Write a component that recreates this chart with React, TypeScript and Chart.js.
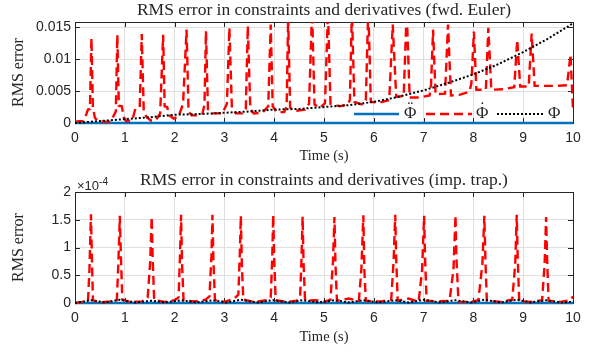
import React, { useEffect, useRef } from "react";
import { Chart, registerables } from "chart.js";

Chart.register(...registerables);

// ---------- texts & ticks ----------
const topTitle = "RMS error in constraints and derivatives (fwd. Euler)";
const bottomTitle = "RMS error in constraints and derivatives (imp. trap.)";
const xAxisTitle = "Time (s)";
const yAxisTitle = "RMS error";
const legendLabels = ["\u03A6\u0308", "\u03A6\u0307", "\u03A6"];
const legendBase = "\u03A6";
const legendMarks = ["\u00A8", "\u02D9", ""];
const bottomExponentBase = "\u00D710";
const bottomExponentPower = "-4";

const xTickValues = [0, 1, 2, 3, 4, 5, 6, 7, 8, 9, 10];
const xTickLabels = ["0", "1", "2", "3", "4", "5", "6", "7", "8", "9", "10"];
const topYTickValues = [0, 0.005, 0.01, 0.015];
const topYTickLabels = ["0", "0.005", "0.01", "0.015"];
const bottomYTickValues = [0, 0.5, 1, 1.5, 2];
const bottomYTickLabels = ["0", "0.5", "1", "1.5", "2"];

// ---------- top panel (fwd. Euler) ----------
const topPhiDdotTime = [0, 1, 2, 3, 4, 5, 6, 7, 8, 9, 10];
const topPhiDdotValue = [0, 0, 0, 0, 0, 0, 0, 0, 0, 0, 0];

const topPhiDotTime = [
  0.0, 0.08, 0.17, 0.22, 0.26, 0.3, 0.33, 0.36, 0.4, 0.46, 0.6, 0.72, 0.78, 0.82, 0.85, 0.88, 0.94, 0.98,
  1.03, 1.15, 1.21, 1.3, 1.34, 1.38, 1.43, 1.52, 1.62, 1.71, 1.77, 1.8, 1.85, 1.89, 1.98, 2.08, 2.17, 2.24,
  2.28, 2.34, 2.46, 2.56, 2.6, 2.63, 2.67, 2.76, 2.96, 3.05, 3.1, 3.15, 3.23, 3.36, 3.43, 3.47, 3.52, 3.59,
  3.76, 3.88, 3.93, 3.97, 4.05, 4.2, 4.25, 4.28, 4.32, 4.42, 4.62, 4.7, 4.76, 4.81, 4.92, 5.02, 5.08, 5.13,
  5.32, 5.48, 5.52, 5.56, 5.61, 5.76, 5.84, 5.89, 5.94, 6.12, 6.31, 6.38, 6.45, 6.6, 6.66, 6.72, 6.92, 7.12,
  7.15, 7.19, 7.24, 7.43, 7.49, 7.55, 7.72, 7.92, 7.96, 8.01, 8.06, 8.25, 8.3, 8.36, 8.62, 8.82, 8.88, 8.94,
  9.11, 9.17, 9.23, 9.6, 9.88, 9.95, 10.0,
];
const topPhiDotValue = [
  0.0002, 0.0003, 0.0003, 0.0012, 0.0021, 0.0022, 0.0133, 0.0025, 0.0008, 0.0003, 0.0002, 0.0002, 0.0012, 0.0018, 0.0138, 0.0027, 0.0026, 0.0009,
  0.0003, 0.0004, 0.0022, 0.0025, 0.0139, 0.002, 0.001, 0.0004, 0.0004, 0.0015, 0.0138, 0.0026, 0.0025, 0.0012, 0.0007, 0.001, 0.003, 0.0146,
  0.0018, 0.0012, 0.0012, 0.0015, 0.0029, 0.0144, 0.002, 0.0015, 0.0015, 0.003, 0.0149, 0.0024, 0.0015, 0.0015, 0.0022, 0.0152, 0.0022, 0.0015,
  0.0016, 0.0026, 0.0154, 0.0026, 0.0017, 0.0017, 0.0026, 0.0165, 0.0024, 0.0019, 0.0021, 0.003, 0.0175, 0.0029, 0.0024, 0.0031, 0.0175, 0.003,
  0.0026, 0.0029, 0.0036, 0.0175, 0.0033, 0.0029, 0.0036, 0.018, 0.0033, 0.0032, 0.0036, 0.0154, 0.0041, 0.0042, 0.0175, 0.004, 0.004, 0.0043,
  0.006, 0.0146, 0.0045, 0.0046, 0.0154, 0.0043, 0.0044, 0.0049, 0.0062, 0.0143, 0.0052, 0.0052, 0.0149, 0.0052, 0.0053, 0.0056, 0.013, 0.0057,
  0.0057, 0.014, 0.0058, 0.0058, 0.0059, 0.0107, 0.002,
];

const topPhiTime = [0, 0.5, 1, 1.5, 2, 2.5, 3, 3.5, 4, 4.5, 5, 5.5, 6, 6.5, 7, 7.5, 8, 8.5, 9, 9.5, 10];
const topPhiValue = [
  0, 0.0003, 0.0006, 0.0009, 0.0013, 0.0014, 0.0016, 0.0018, 0.0021, 0.0022, 0.0025, 0.0028, 0.0033, 0.0041,
  0.0051, 0.0063, 0.0076, 0.0092, 0.0111, 0.0132, 0.0156,
];

// ---------- bottom panel (imp. trap.), values in units of 1e-4 ----------
const botPhiDdotTime = [0, 1, 2, 3, 4, 5, 6, 7, 8, 9, 10];
const botPhiDdotValueE4 = [0, 0, 0, 0, 0, 0, 0, 0, 0, 0, 0];

const botPhiDotTime = [
  0.0, 0.15, 0.26, 0.29, 0.32, 0.34, 0.36, 0.5, 0.7, 0.84, 0.87, 0.9, 0.92, 0.95, 1.1, 1.35, 1.46, 1.51, 1.54,
  1.56, 1.59, 1.8, 2.0, 2.08, 2.11, 2.13, 2.15, 2.18, 2.4, 2.62, 2.7, 2.74, 2.76, 2.78, 2.81, 3.0, 3.2, 3.28,
  3.31, 3.33, 3.35, 3.38, 3.6, 3.85, 3.93, 3.96, 3.98, 4.0, 4.03, 4.25, 4.45, 4.52, 4.55, 4.57, 4.59, 4.62,
  4.85, 5.0, 5.13, 5.18, 5.21, 5.23, 5.26, 5.5, 5.7, 5.75, 5.79, 5.81, 5.84, 6.0, 6.15, 6.35, 6.4, 6.43, 6.45,
  6.48, 6.7, 6.9, 6.97, 7.01, 7.03, 7.06, 7.3, 7.52, 7.6, 7.64, 7.66, 7.7, 7.95, 8.1, 8.18, 8.22, 8.24, 8.27,
  8.55, 8.78, 8.84, 8.87, 8.89, 8.92, 9.15, 9.38, 9.43, 9.46, 9.48, 9.51, 9.75, 9.95, 10.0,
];
const botPhiDotValueE4 = [
  0.0, 0.02, 0.02, 0.6, 1.6, 0.8, 0.05, 0.01, 0.03, 0.05, 0.7, 1.57, 0.9, 0.06, 0.02, 0.03, 0.1, 0.75, 1.55,
  0.8, 0.05, 0.02, 0.05, 0.1, 0.9, 1.59, 0.7, 0.04, 0.03, 0.06, 0.12, 0.85, 1.59, 0.75, 0.05, 0.02, 0.08, 0.15,
  0.9, 1.57, 0.7, 0.06, 0.02, 0.05, 0.1, 0.8, 1.59, 0.8, 0.05, 0.02, 0.04, 0.1, 0.85, 1.56, 0.7, 0.04,
  0.05, 0.02, 0.06, 0.75, 1.55, 0.7, 0.04, 0.08, 0.04, 0.6, 1.58, 0.6, 0.04, 0.03, 0.03, 0.06, 0.8, 1.59, 0.8,
  0.04, 0.08, 0.02, 0.6, 1.57, 0.8, 0.04, 0.03, 0.04, 0.6, 1.58, 0.8, 0.02, 0.02, 0.05, 0.7, 1.57, 0.8, 0.04,
  0.02, 0.06, 0.7, 1.59, 0.8, 0.03, 0.02, 0.05, 0.7, 1.55, 0.8, 0.04, 0.02, 0.05, 0.12,
];

const botPhiTime = [
  0, 0.32, 0.6, 0.9, 1.2, 1.54, 1.8, 2.13, 2.45, 2.76, 3.05, 3.33, 3.65, 3.98, 4.3, 4.57, 4.9, 5.21, 5.5,
  5.79, 6.1, 6.43, 6.7, 7.01, 7.3, 7.64, 7.95, 8.22, 8.55, 8.87, 9.15, 9.46, 9.75, 10,
];
const botPhiValueE4 = [
  0, 0.05, 0.01, 0.06, 0.01, 0.04, 0.01, 0.05, 0.01, 0.05, 0.01, 0.06, 0.01, 0.05, 0.01, 0.05, 0.01, 0.05, 0.01,
  0.05, 0.01, 0.05, 0.01, 0.06, 0.01, 0.05, 0.01, 0.06, 0.01, 0.06, 0.01, 0.05, 0.01, 0.02,
];

// ---------- styling ----------
const BLUE = "#0072bd";
const RED = "#ff0000";
const BLACK = "#000000";
const AXIS = "#262626";
const GRID = "#dfdfdf";
const SANS = "'Liberation Sans', Arial, sans-serif";
const SERIF = "'Liberation Serif', 'Times New Roman', serif";

const W = 590;
const TOP_H = 170;
const BOT_H = 183;

const pts = (xs: number[], ys: number[]) => xs.map((x, i) => ({ x, y: ys[i] }));

const framePlugin = {
  id: "frame",
  beforeDatasetsDraw(chart: any) {
    const { ctx, chartArea: a, scales } = chart;
    const L = 5;
    ctx.save();
    ctx.strokeStyle = AXIS;
    ctx.lineWidth = 1;
    ctx.beginPath();
    scales.x.ticks.forEach((t: any) => {
      const px = Math.round(scales.x.getPixelForValue(t.value)) + 0.5;
      ctx.moveTo(px, a.bottom);
      ctx.lineTo(px, a.bottom - L);
      ctx.moveTo(px, a.top);
      ctx.lineTo(px, a.top + L);
    });
    scales.y.ticks.forEach((t: any) => {
      const py = Math.round(scales.y.getPixelForValue(t.value)) + 0.5;
      ctx.moveTo(a.left, py);
      ctx.lineTo(a.left + L, py);
      ctx.moveTo(a.right, py);
      ctx.lineTo(a.right - L, py);
    });
    ctx.stroke();
    ctx.strokeRect(a.left + 0.5, a.top + 0.5, a.right - a.left, a.bottom - a.top);
    ctx.restore();
  },
};

// Axes-centred title (MATLAB centres the title over the axes box)
const axesTitlePlugin = {
  id: "axesTitle",
  afterDraw(chart: any, _args: any, pluginOpts: any) {
    const { ctx, chartArea: a } = chart;
    ctx.save();
    ctx.fillStyle = AXIS;
    ctx.font = `17.5px ${SERIF}`;
    ctx.textAlign = "center";
    ctx.textBaseline = "middle";
    ctx.fillText(pluginOpts.text, (a.left + a.right) / 2, 10);
    ctx.restore();
  },
};

const legendPlugin = {
  id: "insideLegend",
  afterDatasetsDraw(chart: any) {
    const { ctx, chartArea: a } = chart;
    const ly = a.bottom - 9;
    const ty = a.bottom - 5;
    const items = [
      { x0: a.right - 219, x1: a.right - 174, tx: a.right - 169, color: BLUE, width: 2.5, dash: [] as number[] },
      { x0: a.right - 147, x1: a.right - 101, tx: a.right - 97, color: RED, width: 2.4, dash: [9, 5] },
      { x0: a.right - 76, x1: a.right - 28, tx: a.right - 25, color: BLACK, width: 2, dash: [2, 2] },
    ];
    ctx.save();
    items.forEach((it, i) => {
      ctx.beginPath();
      ctx.strokeStyle = it.color;
      ctx.lineWidth = it.width;
      ctx.setLineDash(it.dash);
      ctx.moveTo(it.x0, ly);
      ctx.lineTo(it.x1, ly);
      ctx.stroke();
      ctx.setLineDash([]);
      ctx.fillStyle = AXIS;
      ctx.font = `17px ${SERIF}`;
      ctx.textAlign = "left";
      ctx.textBaseline = "alphabetic";
      ctx.fillText(legendBase, it.tx, ty);
      const w = ctx.measureText(legendBase).width;
      if (legendMarks[i]) {
        ctx.textAlign = "center";
        ctx.fillText(legendMarks[i], it.tx + w / 2, ty - 5);
      }
    });
    ctx.restore();
  },
};

const exponentPlugin = {
  id: "exponent",
  afterDraw(chart: any) {
    const { ctx, chartArea: a } = chart;
    ctx.save();
    ctx.fillStyle = AXIS;
    ctx.textAlign = "left";
    ctx.textBaseline = "alphabetic";
    ctx.font = `13px ${SANS}`;
    ctx.fillText(bottomExponentBase, a.left + 2, a.top - 2);
    const w = ctx.measureText(bottomExponentBase).width;
    ctx.font = `10px ${SANS}`;
    ctx.fillText(bottomExponentPower, a.left + 2 + w, a.top - 7);
    ctx.restore();
  },
};

function lineDataset(label: string, data: any[], color: string, width: number, dash: number[]) {
  return {
    label,
    data,
    borderColor: color,
    backgroundColor: color,
    borderWidth: width,
    borderDash: dash,
    borderCapStyle: "butt",
    borderJoinStyle: "miter",
    pointRadius: 0,
    pointHoverRadius: 0,
    tension: 0,
    fill: false,
    clip: { left: 0, top: 0, right: 0, bottom: 2 },
  };
}

function makeOptions(opts: {
  title: string;
  yMax: number;
  yTickValues: number[];
  yTickLabels: string[];
  xScaleHeight: number;
  xTitlePadBottom: number;
}) {
  return {
    responsive: false,
    animation: false,
    events: [],
    layout: { padding: { left: 0, right: 17, top: 22, bottom: 0 } },
    plugins: {
      legend: { display: false },
      tooltip: { enabled: false },
      title: { display: false },
      axesTitle: { text: opts.title },
    },
    scales: {
      x: {
        type: "linear",
        min: 0,
        max: 10,
        afterBuildTicks: (s: any) => {
          s.ticks = xTickValues.map((v) => ({ value: v }));
        },
        afterFit: (s: any) => {
          s.height = opts.xScaleHeight;
        },
        ticks: {
          color: AXIS,
          font: { family: SANS, size: 14 },
          padding: 7,
          maxRotation: 0,
          autoSkip: false,
          callback: (_v: any, i: number) => xTickLabels[i],
        },
        grid: { color: GRID, lineWidth: 1, drawTicks: false },
        border: { display: false },
        title: {
          display: true,
          text: xAxisTitle,
          color: AXIS,
          font: { family: SERIF, size: 14.5 },
          padding: { top: 0, bottom: opts.xTitlePadBottom },
        },
      },
      y: {
        type: "linear",
        min: 0,
        max: opts.yMax,
        afterBuildTicks: (s: any) => {
          s.ticks = opts.yTickValues.map((v) => ({ value: v }));
        },
        afterFit: (s: any) => {
          s.width = 75;
        },
        ticks: {
          color: AXIS,
          font: { family: SANS, size: 14 },
          padding: 4,
          autoSkip: false,
          callback: (_v: any, i: number) => opts.yTickLabels[i],
        },
        grid: { color: GRID, lineWidth: 1, drawTicks: false },
        border: { display: false },
        title: {
          display: true,
          text: yAxisTitle,
          color: AXIS,
          font: { family: SERIF, size: 16 },
          padding: { top: 9.4, bottom: 0 },
        },
      },
    },
  };
}

export default function App() {
  const topRef = useRef<HTMLCanvasElement>(null);
  const botRef = useRef<HTMLCanvasElement>(null);

  useEffect(() => {
    const top = new Chart(topRef.current as HTMLCanvasElement, {
      type: "line",
      data: {
        datasets: [
          lineDataset(legendLabels[2], pts(topPhiTime, topPhiValue), BLACK, 2, [2, 2]),
          lineDataset(legendLabels[1], pts(topPhiDotTime, topPhiDotValue), RED, 2.4, [9, 5]),
          lineDataset(legendLabels[0], pts(topPhiDdotTime, topPhiDdotValue), BLUE, 2.5, []),
        ],
      } as any,
      options: makeOptions({
        title: topTitle,
        yMax: 0.0158,
        yTickValues: topYTickValues,
        yTickLabels: topYTickLabels,
        xScaleHeight: TOP_H - 123,
        xTitlePadBottom: 5.3,
      }) as any,
      plugins: [framePlugin, legendPlugin, axesTitlePlugin],
    });
    const bot = new Chart(botRef.current as HTMLCanvasElement, {
      type: "line",
      data: {
        datasets: [
          lineDataset(legendLabels[2], pts(botPhiTime, botPhiValueE4), BLACK, 2, [2, 2]),
          lineDataset(legendLabels[1], pts(botPhiDotTime, botPhiDotValueE4), RED, 2.4, [9, 5]),
          lineDataset(legendLabels[0], pts(botPhiDdotTime, botPhiDdotValueE4), BLUE, 2.5, []),
        ],
      } as any,
      options: makeOptions({
        title: bottomTitle,
        yMax: 2,
        yTickValues: bottomYTickValues,
        yTickLabels: bottomYTickLabels,
        xScaleHeight: BOT_H - 133,
        xTitlePadBottom: 7.6,
      }) as any,
      plugins: [framePlugin, exponentPlugin, axesTitlePlugin],
    });
    return () => {
      top.destroy();
      bot.destroy();
    };
  }, []);

  return (
    <div style={{ position: "absolute", left: 0, top: 0, width: W, height: TOP_H + BOT_H, background: "#fff" }}>
      <canvas ref={topRef} width={W} height={TOP_H} style={{ display: "block", width: W, height: TOP_H }} />
      <canvas ref={botRef} width={W} height={BOT_H} style={{ display: "block", width: W, height: BOT_H }} />
    </div>
  );
}
